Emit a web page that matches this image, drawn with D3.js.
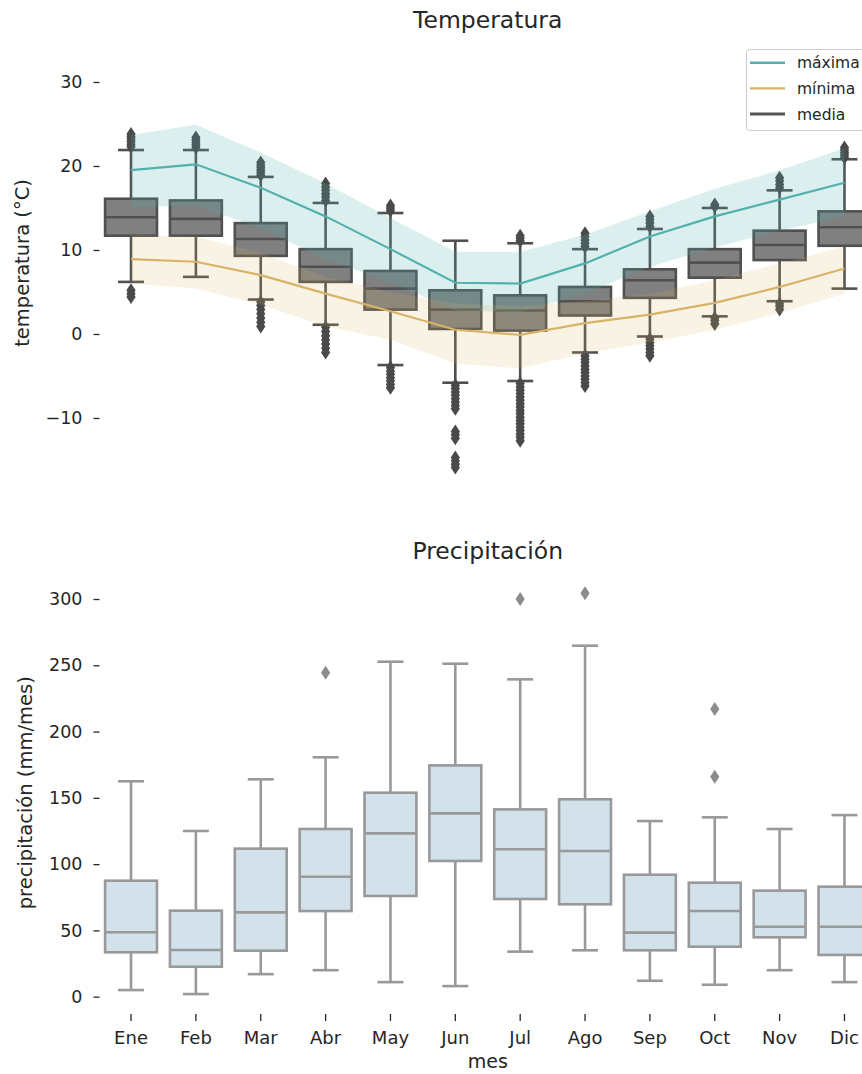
<!DOCTYPE html>
<html>
<head>
<meta charset="utf-8">
<script src="https://cdn.jsdelivr.net/npm/d3@7"></script>
<style>
  html, body { margin: 0; padding: 0; background: #fff; }
  svg { display: block; font-family: "DejaVu Sans", sans-serif; }
</style>
</head>
<body>
<svg id="chart" width="862" height="1074"></svg>
<script>
// Month labels
const months = ["Ene", "Feb", "Mar", "Abr", "May", "Jun", "Jul", "Ago", "Sep", "Oct", "Nov", "Dic"];

// Temperature: monthly mean of daily maximum / minimum, with shaded spread
const maxMean  = [19.5, 20.2, 17.4, 14.0, 10.1, 6.1, 6.0, 8.4, 11.6, 14.0, 16.0, 18.0];
const maxUpper = [23.7, 24.9, 21.6, 17.9, 13.8, 9.8, 9.8, 11.8, 14.6, 17.3, 19.5, 22.1];
const maxLower = [15.1, 15.3, 12.6, 8.9, 6.2, 2.8, 2.6, 4.8, 8.0, 10.3, 12.3, 14.0];
const minMean  = [8.9, 8.6, 7.0, 4.8, 2.7, 0.5, -0.1, 1.3, 2.3, 3.7, 5.6, 7.8];
const minUpper = [11.8, 11.6, 9.6, 6.8, 5.0, 3.6, 3.3, 3.9, 4.8, 6.4, 8.4, 10.4];
const minLower = [6.0, 5.4, 3.5, 0.9, -0.7, -3.5, -4.1, -2.3, -1.0, 0.5, 2.5, 4.8];

// Temperature: daily mean distribution per month (box plot statistics)
const tLo  = [6.2, 6.8, 4.1, 1.1, -3.7, -5.8, -5.6, -2.2, -0.3, 2.1, 3.9, 5.4];
const tQ1  = [11.7, 11.7, 9.3, 6.2, 2.9, 0.6, 0.4, 2.2, 4.3, 6.7, 8.8, 10.5];
const tMed = [13.9, 13.7, 11.3, 8.0, 5.4, 2.9, 2.8, 3.9, 6.4, 8.5, 10.6, 12.7];
const tQ3  = [16.1, 15.9, 13.2, 10.1, 7.5, 5.2, 4.6, 5.6, 7.7, 10.1, 12.3, 14.6];
const tHi  = [21.9, 21.9, 18.7, 15.6, 14.4, 11.1, 10.8, 10.1, 12.5, 15.0, 17.1, 20.8];
const tOut = [
  [22.3, 22.6, 22.9, 23.2, 23.5, 23.8, 4.4, 4.8, 5.2],
  [22.2, 22.5, 22.8, 23.1, 23.4],
  [18.9, 19.2, 19.5, 19.8, 20.1, 20.4, 0.9, 1.4, 1.9, 2.4, 2.9, 3.4, 3.8],
  [15.9, 16.3, 16.7, 17.1, 17.5, 17.9, -2.2, -1.7, -1.2, -0.7, -0.2, 0.3, 0.8],
  [14.7, 15.0, 15.3, -4.0, -4.4, -4.8, -5.2, -5.6, -6.0, -6.4],
  [-6.1, -6.5, -6.9, -7.3, -7.7, -8.1, -8.5, -8.9, -11.6, -12.0, -12.4, -14.7, -15.1, -15.5, -15.9],
  [11.1, 11.4, 11.7, -5.9, -6.3, -6.7, -7.1, -7.5, -7.9, -8.3, -8.7, -9.1, -9.5, -9.9, -10.3, -10.7, -11.1, -11.5, -11.9, -12.3, -12.7],
  [10.4, 10.8, 11.2, 11.6, 12.0, -2.6, -3.0, -3.4, -3.8, -4.2, -4.6, -5.0, -5.4, -5.8, -6.2],
  [12.8, 13.2, 13.6, 14.0, -0.6, -1.0, -1.4, -1.8, -2.2, -2.6],
  [15.2, 15.4, 1.2, 1.6, 1.9],
  [17.4, 17.8, 18.2, 18.6, 2.9, 3.3, 3.6],
  [21.0, 21.3, 21.6, 21.9, 22.2]
];

// Precipitation (mm/mes): box plot statistics per month
const pLo  = [5, 2, 17, 20, 11, 8, 34, 35, 12, 9, 20, 11];
const pQ1  = [33.5, 22.6, 34.7, 64.6, 76, 102.4, 73.7, 69.7, 35, 37.7, 44.8, 31.5];
const pMed = [48.6, 35.2, 63.6, 90.5, 123.2, 138.3, 111.2, 109.9, 48.3, 64.6, 52.8, 52.8];
const pQ3  = [87.5, 64.9, 111.7, 126.5, 153.9, 174.5, 141.3, 148.9, 92, 86, 80, 83];
const pHi  = [162.5, 125, 164, 180.6, 252.7, 251.2, 239.4, 264.8, 132.5, 135.3, 126.5, 137];
const pOut = [[], [], [], [244.4], [], [], [300], [304.3], [], [217, 166], [], []];

// Tick values and legend entries
const tempTicks = [-10, 0, 10, 20, 30];
const precTicks = [0, 50, 100, 150, 200, 250, 300];
const legendLabels = ["máxima", "mínima", "media"];

const C_MAX = "#52b1ae", C_MIN = "#d8b365", C_TXT = "#262626";

const svg = d3.select("#chart");

const x = d3.scaleBand().domain(months).range([98.6, 876.9]).padding(0);
const bw = x.bandwidth() * 0.8;
const cx = m => x(m) + x.bandwidth() / 2;

const yT = d3.scaleLinear().domain([-17.86, 34.76]).range([484, 42]);
const yP = d3.scaleLinear().domain([-12.3, 320]).range([1013, 572.5]);

const diamond = "M0,-7L4.6,0L0,7L-4.6,0Z";

function boxes(g, y, st, style) {
  const rows = months.map((m, i) => ({
    m, lo: st.lo[i], q1: st.q1[i], med: st.med[i], q3: st.q3[i], hi: st.hi[i], out: st.out[i]
  }));
  const b = g.selectAll("g.box").data(rows).join("g").attr("class", "box");
  const sw = style.width;
  // whiskers
  b.append("line").attr("x1", d => cx(d.m)).attr("x2", d => cx(d.m))
    .attr("y1", d => y(d.q3)).attr("y2", d => y(d.hi))
    .attr("stroke", style.stroke).attr("stroke-width", sw);
  b.append("line").attr("x1", d => cx(d.m)).attr("x2", d => cx(d.m))
    .attr("y1", d => y(d.q1)).attr("y2", d => y(d.lo))
    .attr("stroke", style.stroke).attr("stroke-width", sw);
  // caps
  ["hi", "lo"].forEach(k => {
    b.append("line").attr("x1", d => cx(d.m) - bw / 4).attr("x2", d => cx(d.m) + bw / 4)
      .attr("y1", d => y(d[k])).attr("y2", d => y(d[k]))
      .attr("stroke", style.stroke).attr("stroke-width", sw);
  });
  // box
  b.append("rect").attr("x", d => cx(d.m) - bw / 2).attr("width", bw)
    .attr("y", d => y(d.q3)).attr("height", d => y(d.q1) - y(d.q3))
    .attr("fill", style.fill).attr("stroke", style.stroke).attr("stroke-width", sw);
  // median
  b.append("line").attr("x1", d => cx(d.m) - bw / 2).attr("x2", d => cx(d.m) + bw / 2)
    .attr("y1", d => y(d.med)).attr("y2", d => y(d.med))
    .attr("stroke", style.stroke).attr("stroke-width", sw);
  // fliers
  b.selectAll("path.flier").data(d => d.out.map(v => ({ m: d.m, v }))).join("path")
    .attr("class", "flier").attr("d", diamond)
    .attr("transform", d => `translate(${cx(d.m)},${y(d.v)})`)
    .attr("fill", style.flier);
}

// ---------- Temperatura ----------
const gT = svg.append("g");
boxes(gT, yT, { lo: tLo, q1: tQ1, med: tMed, q3: tQ3, hi: tHi, out: tOut },
  { fill: "#808080", stroke: "#505050", width: 2.6, flier: "#4a4a4a" });

const bandData = (lo, hi) => months.map((m, i) => ({ m, lo: lo[i], hi: hi[i] }));
const area = d3.area().x(d => cx(d.m)).y0(d => yT(d.lo)).y1(d => yT(d.hi));
const line = d3.line().x(d => cx(d.m)).y(d => yT(d.v));

gT.append("path").datum(bandData(maxLower, maxUpper)).attr("d", area)
  .attr("fill", C_MAX).attr("fill-opacity", 0.2);
gT.append("path").datum(bandData(minLower, minUpper)).attr("d", area)
  .attr("fill", C_MIN).attr("fill-opacity", 0.16);
gT.append("path").datum(months.map((m, i) => ({ m, v: maxMean[i] }))).attr("d", line)
  .attr("fill", "none").attr("stroke", C_MAX).attr("stroke-width", 2.2);
gT.append("path").datum(months.map((m, i) => ({ m, v: minMean[i] }))).attr("d", line)
  .attr("fill", "none").attr("stroke", C_MIN).attr("stroke-width", 2.2);

function styleAxis(g, size) {
  g.select(".domain").remove();
  g.selectAll(".tick line").attr("stroke", C_TXT).attr("stroke-width", 1.3);
  g.selectAll(".tick text").attr("fill", C_TXT).style("font-size", size + "px")
    .style("font-family", "DejaVu Sans, sans-serif");
}

svg.append("g").attr("transform", "translate(99.5,0)")
  .call(d3.axisLeft(yT).tickValues(tempTicks).tickSize(6).tickPadding(11))
  .call(g => styleAxis(g, 17.5));

svg.append("text").attr("x", 487.75).attr("y", 28).attr("text-anchor", "middle")
  .attr("fill", C_TXT).style("font-size", "23.5px").text("Temperatura");
svg.append("text").attr("transform", `translate(29,${(yT.range()[0] + yT.range()[1]) / 2}) rotate(-90)`)
  .attr("text-anchor", "middle").attr("fill", C_TXT).style("font-size", "19.5px")
  .text("temperatura (°C)");

// legend
const lg = svg.append("g").attr("transform", "translate(746,49)");
lg.append("rect").attr("x", 0.5).attr("y", 0.5).attr("width", 130).attr("height", 81)
  .attr("rx", 3).attr("fill", "#fff").attr("fill-opacity", 0.8)
  .attr("stroke", "#cccccc").attr("stroke-width", 1);
const legendColors = [C_MAX, C_MIN, "#555555"];
legendLabels.forEach((t, i) => {
  const yy = 13.7 + i * 25.7;
  lg.append("line").attr("x1", 4).attr("x2", 39).attr("y1", yy).attr("y2", yy)
    .attr("stroke", legendColors[i]).attr("stroke-width", i === 2 ? 3 : 2.4);
  lg.append("text").attr("x", 51).attr("y", yy).attr("dy", "0.35em")
    .attr("fill", C_TXT).style("font-size", "15.5px").text(t);
});

// ---------- Precipitación ----------
const gP = svg.append("g");
boxes(gP, yP, { lo: pLo, q1: pQ1, med: pMed, q3: pQ3, hi: pHi, out: pOut },
  { fill: "#d3e1eb", stroke: "#999999", width: 2.6, flier: "#8c8c8c" });

svg.append("g").attr("transform", "translate(99.5,0)")
  .call(d3.axisLeft(yP).tickValues(precTicks).tickSize(6).tickPadding(11))
  .call(g => styleAxis(g, 17.5));

svg.append("g").attr("transform", "translate(0,1014)")
  .call(d3.axisBottom(x).tickSize(7).tickPadding(10))
  .call(g => styleAxis(g, 18));

svg.append("text").attr("x", 487.75).attr("y", 558.5).attr("text-anchor", "middle")
  .attr("fill", C_TXT).style("font-size", "23.5px").text("Precipitación");
svg.append("text").attr("transform", `translate(32,${(yP.range()[0] + yP.range()[1]) / 2}) rotate(-90)`)
  .attr("text-anchor", "middle").attr("fill", C_TXT).style("font-size", "19.5px")
  .text("precipitación (mm/mes)");
svg.append("text").attr("x", 487.75).attr("y", 1068).attr("text-anchor", "middle")
  .attr("fill", C_TXT).style("font-size", "19px").text("mes");
</script>
</body>
</html>
